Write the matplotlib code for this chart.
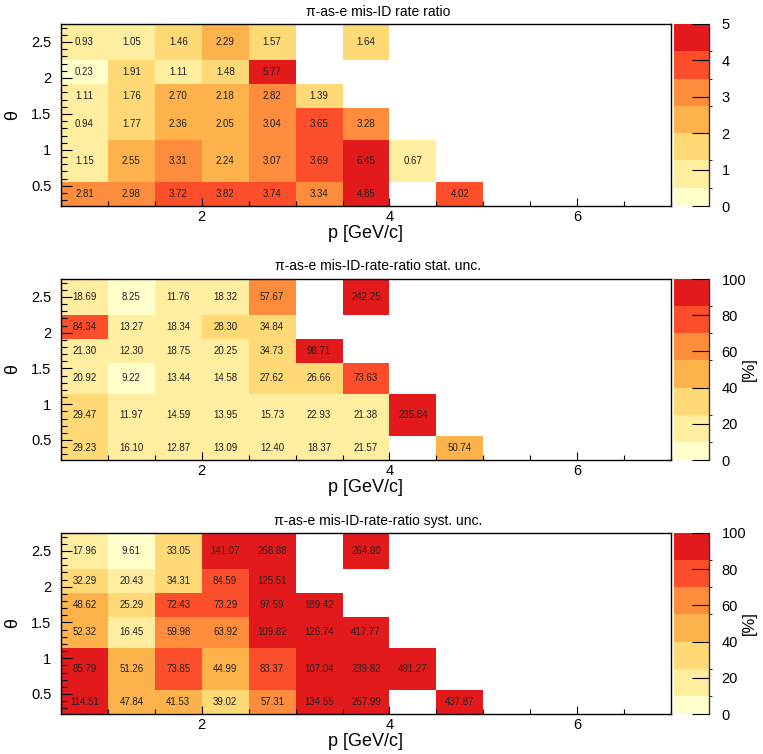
import numpy as np
import matplotlib
matplotlib.use('Agg')
import matplotlib.pyplot as plt
from matplotlib.colors import ListedColormap, BoundaryNorm
from matplotlib.ticker import MultipleLocator, FormatStrFormatter

plt.rcParams['font.family'] = ['Liberation Sans', 'DejaVu Sans']

# bin edges
p_edges = [0.5, 1.0, 1.5, 2.0, 2.5, 3.0, 3.5, 4.0, 4.5, 5.0]
theta_edges = [0.22, 0.56, 1.14, 1.58, 1.91, 2.25, 2.75]

# rows listed from top (high theta) to bottom, None = empty bin
ratio = [
    [0.93, 1.05, 1.46, 2.29, 1.57, None, 1.64, None, None],
    [0.23, 1.91, 1.11, 1.48, 5.77, None, None, None, None],
    [1.11, 1.76, 2.70, 2.18, 2.82, 1.39, None, None, None],
    [0.94, 1.77, 2.36, 2.05, 3.04, 3.65, 3.28, None, None],
    [1.15, 2.55, 3.31, 2.24, 3.07, 3.69, 6.45, 0.67, None],
    [2.81, 2.98, 3.72, 3.82, 3.74, 3.34, 4.85, None, 4.02],
]
stat_unc = [
    [18.69, 8.25, 11.76, 18.32, 57.67, None, 242.25, None, None],
    [84.34, 13.27, 18.34, 28.30, 34.84, None, None, None, None],
    [21.30, 12.30, 18.75, 20.25, 34.73, 98.71, None, None, None],
    [20.92, 9.22, 13.44, 14.58, 27.62, 26.66, 73.63, None, None],
    [29.47, 11.97, 14.59, 13.95, 15.73, 22.93, 21.38, 235.84, None],
    [29.23, 16.10, 12.87, 13.09, 12.40, 18.37, 21.57, None, 50.74],
]
syst_unc = [
    [17.96, 9.61, 33.05, 141.07, 268.88, None, 264.80, None, None],
    [32.29, 20.43, 34.31, 84.59, 125.51, None, None, None, None],
    [48.62, 25.29, 72.43, 73.29, 97.59, 189.42, None, None, None],
    [52.32, 16.45, 59.98, 63.92, 109.82, 126.74, 417.77, None, None],
    [85.79, 51.26, 73.85, 44.99, 83.37, 107.04, 239.82, 491.27, None],
    [114.51, 47.84, 41.53, 39.02, 57.31, 134.55, 267.99, None, 437.87],
]

titles = ['\u03c0-as-e mis-ID rate ratio',
          '\u03c0-as-e mis-ID-rate-ratio stat. unc.',
          '\u03c0-as-e mis-ID-rate-ratio syst. unc.']
zmax = [5, 100, 100]
zticks = [[0, 1, 2, 3, 4, 5], [0, 20, 40, 60, 80, 100], [0, 20, 40, 60, 80, 100]]
zlabels = ['', '[%]', '[%]']

# ROOT-like palette with 7 colours (levels 0, .1, .25, .4, .55, .7, .85, 1 of range)
colors = ['#ffffcc', '#ffeda0', '#fed976', '#feb24c', '#fd8d3c', '#fc4e2a', '#e31a1c']
fracs = np.array([0, 0.1, 0.25, 0.4, 0.55, 0.7, 0.85, 1.0])

W, H = 763, 754
fig = plt.figure(figsize=(W / 100, H / 100), dpi=100)

# panel boxes in pixels: (top, bottom)
boxes = [(24, 206), (279, 460), (533, 714)]
title_y = [12, 266, 521]
ax_left, ax_right = 61, 671
cb_left, cb_right = 674, 709

for i, data in enumerate([ratio, stat_unc, syst_unc]):
    top, bot = boxes[i]
    ax = fig.add_axes([ax_left / W, 1 - bot / H, (ax_right - ax_left) / W, (bot - top) / H])
    z = np.array([[np.nan if v is None else v for v in row] for row in data])[::-1]
    cmap = ListedColormap(colors)
    cmap.set_over(colors[-1])
    norm = BoundaryNorm(fracs * zmax[i], cmap.N)
    mesh = ax.pcolormesh(p_edges, theta_edges, np.ma.masked_invalid(z), cmap=cmap, norm=norm)

    # bin contents
    for r in range(z.shape[0]):
        for c in range(z.shape[1]):
            if not np.isnan(z[r, c]):
                xc = 0.5 * (p_edges[c] + p_edges[c + 1])
                yc = 0.5 * (theta_edges[r] + theta_edges[r + 1])
                ax.text(xc, yc, '%.2f' % z[r, c], ha='center', va='center', fontsize=7, color='#222222')

    ax.set_xlim(0.5, 7)
    ax.set_ylim(theta_edges[0], theta_edges[-1])
    ax.xaxis.set_major_locator(MultipleLocator(2))
    ax.xaxis.set_minor_locator(MultipleLocator(0.5))
    ax.yaxis.set_major_locator(MultipleLocator(0.5))
    ax.yaxis.set_minor_locator(MultipleLocator(0.1))
    ax.yaxis.set_major_formatter(FormatStrFormatter('%g'))
    ax.tick_params(which='both', direction='in', top=False, right=False, labelsize=10.5, width=0.8)
    ax.tick_params(axis='y', which='major', length=8, pad=7)
    ax.tick_params(axis='y', which='minor', length=4)
    ax.tick_params(axis='x', which='major', length=6, pad=3)
    ax.tick_params(axis='x', which='minor', length=3.5)
    for s in ax.spines.values():
        s.set_linewidth(1.0)

    ax.set_xlabel('p [GeV/c]', fontsize=13)
    ax.xaxis.label.set_va('center')
    ax.xaxis.set_label_coords(0.5, -27 / (bot - top))
    ax.set_ylabel('\u03b8', fontsize=13)
    ax.yaxis.label.set_va('center')
    ax.yaxis.set_label_coords(-48 / (ax_right - ax_left), 0.5)

    fig.text(378 / W, 1 - title_y[i] / H, titles[i], ha='center', va='center', fontsize=10)

    cax = fig.add_axes([cb_left / W, 1 - bot / H, (cb_right - cb_left) / W, (bot - top) / H])
    cb = fig.colorbar(mesh, cax=cax, ticks=zticks[i], spacing='proportional')
    cb.outline.set_visible(False)
    cax.plot([1, 1], [0, 1], transform=cax.transAxes, color='#333333', lw=1, clip_on=False)
    cax.tick_params(direction='in', length=12, width=0.8, labelsize=10.5, pad=9)
    if zlabels[i]:
        cax.set_ylabel(zlabels[i], fontsize=12, labelpad=-3)

fig.savefig('out.png', dpi=100)
